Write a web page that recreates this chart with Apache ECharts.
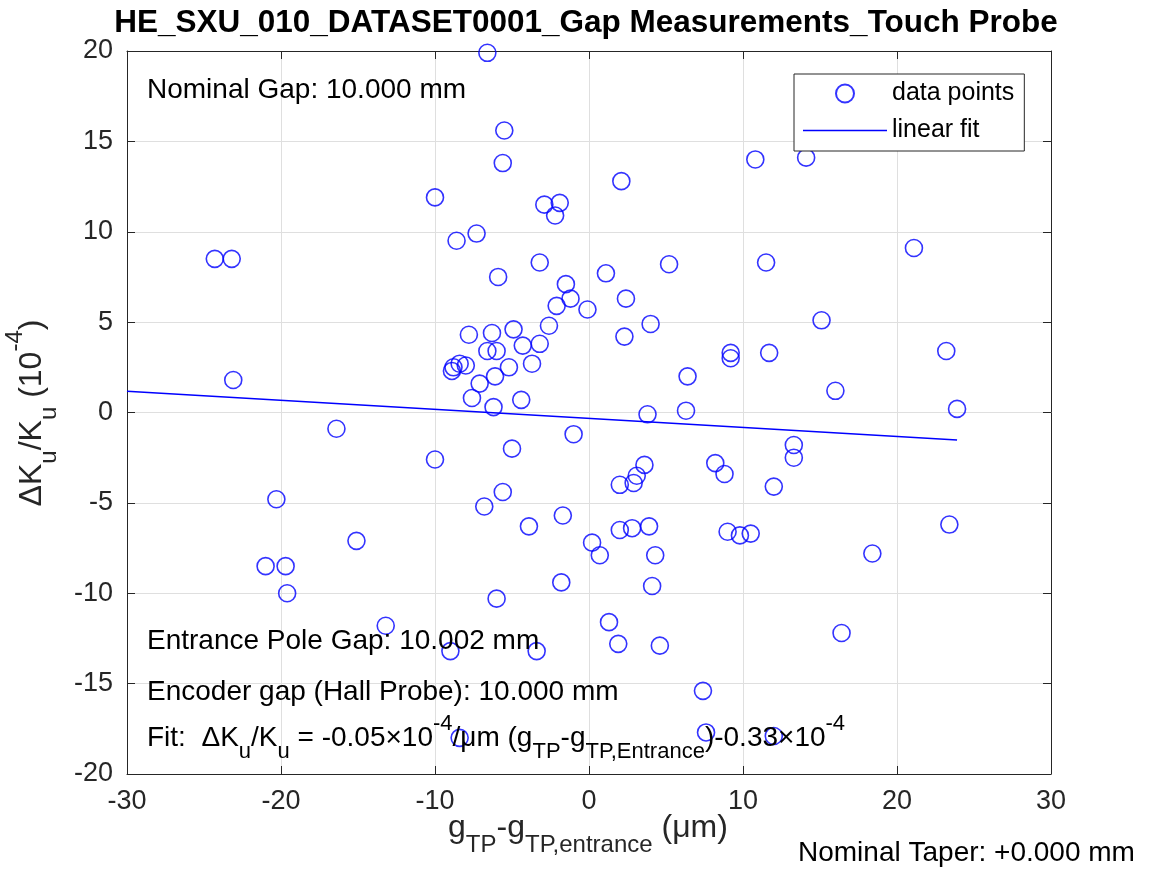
<!DOCTYPE html>
<html>
<head>
<meta charset="utf-8">
<script src="https://cdn.jsdelivr.net/npm/echarts@6/dist/echarts.min.js"></script>
<style>
  html, body { margin: 0; padding: 0; background: #fff; }
  #chart { width: 1153px; height: 878px; }
</style>
</head>
<body>
<div id="chart"></div>
<script>
// Gap deviation from the entrance pole gap (µm), touch-probe measurements
const GAP_DEV = [
  -6.6, -5.5, -5.6, -10.0, 2.1, 10.8, 14.1, -2.9, -1.9, -2.2,
  -7.3, -8.6, -24.3, -23.2, -3.2, -5.9, 1.1, 5.2, 11.5, 21.1,
  -1.5, -1.2, -2.1, -0.1, 2.4, 4.0, 2.3, -2.6, -4.9, -7.8,
  -6.3, -6.6, -6.0, -4.3, -3.2, -3.7, -5.2, -6.1, -7.1, -7.6,
  -4.4, -6.2, -8.9, -8.8, -8.4, -8.0, 9.2, 9.2, 6.4, 3.8,
  6.3, 15.1, 11.7, 23.2, 16.0, 23.9, -23.1,
  -16.4, -10.0, -20.3, -15.1, -21.0, -19.7, -19.6, -13.2, -1.0, -5.0,
  -5.6, -6.8, -3.9, -1.7, 3.6, 3.1, 2.9, 2.0, 8.2, 8.8,
  0.2, 0.7, 2.0, 2.8, 3.9, 4.3, 4.1, -1.8, -6.0, 1.3,
  1.9, 4.6, -9.0, -3.4, 7.4, 7.6, -8.4, 9.0, 9.8, 10.5,
  13.3, 13.3, 12.0, 23.4, 18.4, 16.4, 12.0
];
// Relative K deviation (1e-4) for each measurement
const DK_REL = [
  19.9, 15.6, 13.8, 11.9, 12.8, 14.0, 14.1, 11.5, 11.6, 10.9,
  9.9, 9.5, 8.5, 8.5, 8.3, 7.5, 7.7, 8.2, 8.3, 9.1,
  7.1, 6.3, 5.9, 5.7, 6.3, 4.9, 4.2, 4.8, 4.6, 4.3,
  4.4, 3.4, 3.4, 3.7, 3.8, 2.7, 2.5, 2.0, 1.6, 0.8,
  0.7, 0.3, 2.3, 2.5, 2.7, 2.6, 3.3, 3.0, 2.0, -0.1,
  0.1, 5.1, 3.3, 3.4, 1.2, 0.2, 1.8,
  -0.9, -2.6, -4.8, -7.1, -8.5, -8.5, -10.0, -11.8, -1.2, -2.0,
  -4.4, -5.2, -6.3, -5.7, -2.9, -3.5, -3.9, -4.0, -2.8, -3.4,
  -7.2, -7.9, -6.5, -6.4, -6.3, -7.9, -9.6, -9.4, -10.3, -11.6,
  -12.8, -12.9, -13.2, -13.2, -15.4, -17.7, -18.0, -6.6, -6.8, -6.7,
  -1.8, -2.5, -4.1, -6.2, -7.8, -12.2, -17.9
];
// Linear fit: dK/K = slope * dg + offset  (1e-4, per µm)
const FIT_SLOPE = -0.05;
const FIT_OFFSET = -0.33;

const X_TICKS = [-30, -20, -10, 0, 10, 20, 30];
const Y_TICKS = [-20, -15, -10, -5, 0, 5, 10, 15, 20];

const SERIES_NAMES = ['data points', 'linear fit'];
const TITLE = 'HE_SXU_010_DATASET0001_Gap Measurements_Touch Probe';
const NOTES = {
  nominalGap: 'Nominal Gap: 10.000 mm',
  entranceGap: 'Entrance Pole Gap: 10.002 mm',
  encoderGap: 'Encoder gap (Hall Probe): 10.000 mm',
  taper: 'Nominal Taper: +0.000 mm'
};

const FONT = '"Liberation Sans", Arial, Helvetica, sans-serif';
const INK = '#262626';
const BLUE = '#0000ff';

const points = GAP_DEV.map((x, i) => [x, DK_REL[i]]);
const xMin = X_TICKS[0], xMax = X_TICKS[X_TICKS.length - 1];
const yMin = Y_TICKS[0], yMax = Y_TICKS[Y_TICKS.length - 1];
const fitEnd = Math.max(...GAP_DEV);
const fitLine = [xMin, fitEnd].map(x => [x, FIT_SLOPE * x + FIT_OFFSET]);

// rich-text styles for TeX-like sub/superscripts
function richStyles(size, subSize, color) {
  const L = Math.round(size * 1.8);
  return {
    b: { fontSize: size, fontFamily: FONT, color: color, lineHeight: L, verticalAlign: 'middle' },
    s: { fontSize: subSize, fontFamily: FONT, color: color, lineHeight: subSize, verticalAlign: 'bottom' },
    p: { fontSize: subSize, fontFamily: FONT, color: color, lineHeight: L - 12, verticalAlign: 'top' }
  };
}

const fitText = '{b|Fit:  \u0394K}{s|u}{b|/K}{s|u}{b| = ' + FIT_SLOPE.toFixed(2) + '\u00d710}{p|-4}{b|/\u03bcm (g}{s|TP}{b|-g}{s|TP,Entrance}{b|)' +
  FIT_OFFSET.toFixed(2) + '\u00d710}{p|-4}';
const yLabel = '{b|\u0394K}{s|u}{b|/K}{s|u}{b| (10}{p|-4}{b|)}';
const xLabel = '{b|g}{s|TP}{b|-g}{s|TP,entrance}{b| (\u03bcm)}';

function plainText(text, x, y, size, color, align) {
  return {
    type: 'text', x: x, y: y, z: 10,
    style: { text: text, fontSize: size, fontFamily: FONT, fill: color, align: align || 'left', verticalAlign: 'middle' }
  };
}
function richText(text, x, y, size, subSize, color, align, rotation) {
  return {
    type: 'text', x: x, y: y, z: 10, rotation: rotation || 0,
    style: { text: text, rich: richStyles(size, subSize, color), fill: color, align: align || 'left', verticalAlign: 'middle' }
  };
}

const chart = echarts.init(document.getElementById('chart'), null, { renderer: 'canvas' });

const axisCommon = {
  type: 'value',
  axisLine: { show: true, onZero: false, lineStyle: { color: INK, width: 1 } },
  axisTick: { show: true, inside: true, length: 8, lineStyle: { color: INK, width: 1 } },
  splitLine: { show: true, lineStyle: { color: '#dfdfdf', width: 1 } }
};

chart.setOption({
  animation: false,
  backgroundColor: '#fff',
  grid: { left: 127, right: 102, top: 51, bottom: 104, containLabel: false },
  xAxis: [
    Object.assign({}, axisCommon, {
      position: 'bottom', min: xMin, max: xMax, interval: X_TICKS[1] - X_TICKS[0],
      axisLabel: { fontSize: 27, fontFamily: FONT, color: INK, margin: 14 }
    }),
    Object.assign({}, axisCommon, {
      position: 'top', min: xMin, max: xMax, interval: X_TICKS[1] - X_TICKS[0],
      axisLabel: { show: false }, splitLine: { show: false }
    })
  ],
  yAxis: [
    Object.assign({}, axisCommon, {
      position: 'left', min: yMin, max: yMax, interval: Y_TICKS[1] - Y_TICKS[0],
      axisLabel: { fontSize: 27, fontFamily: FONT, color: INK, margin: 14 }
    }),
    Object.assign({}, axisCommon, {
      position: 'right', min: yMin, max: yMax, interval: Y_TICKS[1] - Y_TICKS[0],
      axisLabel: { show: false }, splitLine: { show: false }
    })
  ],
  legend: {
    data: [
      { name: SERIES_NAMES[0] },
      { name: SERIES_NAMES[1], icon: 'path://M0,0H84V1.5H0Z' }
    ],
    orient: 'vertical',
    left: 794, top: 74,
    itemWidth: 84, itemHeight: 18, itemGap: 12,
    padding: [7, 10, 8, 9],
    borderColor: INK, borderWidth: 1, borderRadius: 0,
    backgroundColor: '#fff',
    selectedMode: false,
    textStyle: { fontSize: 25, fontFamily: FONT, color: '#000' }
  },
  series: [
    {
      name: SERIES_NAMES[0], type: 'scatter', data: points,
      symbol: 'circle', symbolSize: 17,
      itemStyle: { color: 'rgba(0,0,0,0)', borderColor: BLUE, borderWidth: 1.6 },
      emphasis: { disabled: true }, silent: true, z: 3
    },
    {
      name: SERIES_NAMES[1], type: 'line', data: fitLine,
      symbol: 'none', showSymbol: false,
      lineStyle: { color: BLUE, width: 1.5 }, itemStyle: { color: BLUE },
      emphasis: { disabled: true }, silent: true, z: 2
    }
  ],
  graphic: [
    {
      type: 'text', x: 586, y: 23, z: 10,
      style: { text: TITLE, fontSize: 31.5, fontWeight: 'bold', fontFamily: FONT, fill: '#000', align: 'center', verticalAlign: 'middle' }
    },
    plainText(NOTES.nominalGap, 147, 90, 28, '#000'),
    plainText(NOTES.entranceGap, 147, 641, 28, '#000'),
    plainText(NOTES.encoderGap, 147, 692, 28, '#000'),
    richText(fitText, 147, 738, 28, 22, '#000'),
    plainText(NOTES.taper, 798, 853, 28, '#000'),
    richText(xLabel, 588, 828, 32, 24, INK, 'center'),
    richText(yLabel, 32, 413, 32, 24, INK, 'center', Math.PI / 2)
  ]
});
</script>
</body>
</html>
